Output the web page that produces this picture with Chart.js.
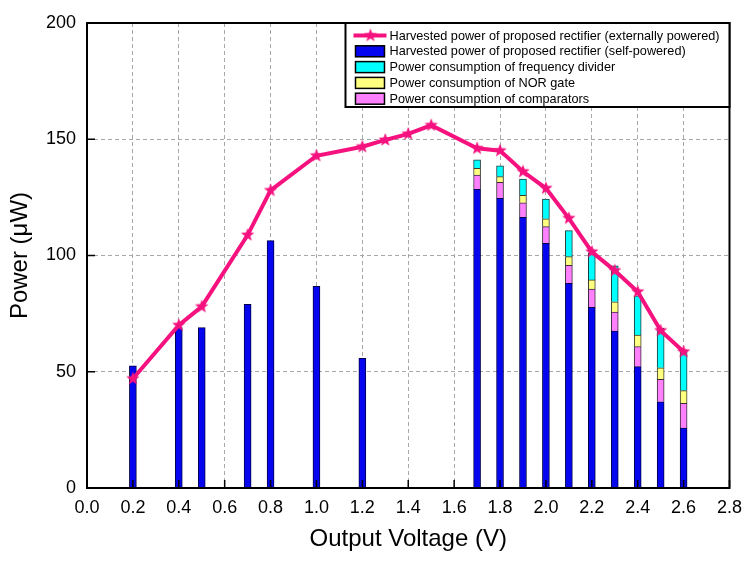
<!DOCTYPE html>
<html>
<head>
<meta charset="utf-8">
<title>Harvested power vs output voltage</title>
<script src="https://cdn.jsdelivr.net/npm/chart.js@4.4.1/dist/chart.umd.min.js"></script>
<style>
  html, body { margin: 0; padding: 0; background: #fff; }
  #wrap { width: 751px; height: 569px; }
</style>
</head>
<body>
<div id="wrap"><canvas id="chart" width="751" height="569"></canvas></div>
<script>
// externally powered (line with stars)
const extVoltage = [0.2, 0.4, 0.5, 0.7, 0.8, 1.0, 1.2, 1.3, 1.4, 1.5, 1.7, 1.8, 1.9, 2.0, 2.1, 2.2, 2.3, 2.4, 2.5, 2.6];
const extPower = [47, 70, 78, 108.8, 128, 142.9, 146.8, 149.7, 152.3, 156, 146.1, 145.1, 136.1, 128.9, 116, 101.6, 93.5, 84.4, 67.7, 58.6];

// self-powered (blue bars)
const selfVoltage = [0.2, 0.4, 0.5, 0.7, 0.8, 1.0, 1.2, 1.7, 1.8, 1.9, 2.0, 2.1, 2.2, 2.3, 2.4, 2.5, 2.6];
const selfPower = [52.5, 69, 69, 79, 106.4, 86.7, 55.8, 128.5, 124.6, 116.4, 105.2, 88.0, 77.7, 67.5, 52.2, 37.1, 25.8];

// consumption parts stacked on top of the blue bars
const stackVoltage = [1.7, 1.8, 1.9, 2.0, 2.1, 2.2, 2.3, 2.4, 2.5, 2.6];
const comparatorPower = [6.1, 6.9, 6.3, 7.2, 7.8, 7.9, 8.2, 8.6, 9.6, 10.6];
const norPower = [2.9, 2.4, 3.2, 3.4, 3.7, 3.9, 4.4, 5.0, 5.0, 5.5];
const dividerPower = [3.6, 4.7, 7.0, 8.5, 11.2, 11.7, 15.5, 16.9, 17.0, 17.5];

const FONT = "'Liberation Sans', Arial, Helvetica, sans-serif";
const PINK = "#f5127f";

const toPoints = (xs, ys) => xs.map((x, i) => ({ x: x, y: ys[i] }));

// filled five point star used as point style
function makeStar(r) {
  const c = document.createElement("canvas");
  const s = Math.ceil(r * 2 + 2);
  c.width = s;
  c.height = s;
  const g = c.getContext("2d");
  g.fillStyle = PINK;
  g.beginPath();
  for (let i = 0; i < 10; i++) {
    const rad = i % 2 === 0 ? r : r * 0.42;
    const a = -Math.PI / 2 + (i * Math.PI) / 5;
    const px = s / 2 + rad * Math.cos(a);
    const py = s / 2 + rad * Math.sin(a);
    if (i === 0) g.moveTo(px, py);
    else g.lineTo(px, py);
  }
  g.closePath();
  g.fill();
  return c;
}
const star = makeStar(7);

// ticks pointing inward, frame and boxed legend
const framePlugin = {
  id: "frame",
  afterDatasetsDraw(chart) {
    const { ctx, chartArea: a, scales } = chart;
    ctx.save();
    ctx.strokeStyle = "#000";
    ctx.lineWidth = 1.5;
    ctx.beginPath();
    scales.x.ticks.forEach((t) => {
      const px = scales.x.getPixelForValue(t.value);
      ctx.moveTo(px, a.bottom);
      ctx.lineTo(px, a.bottom - 8);
    });
    scales.y.ticks.forEach((t) => {
      const py = scales.y.getPixelForValue(t.value);
      ctx.moveTo(a.left, py);
      ctx.lineTo(a.left + 8, py);
    });
    ctx.stroke();
    ctx.lineWidth = 2;
    ctx.strokeRect(a.left, a.top, a.right - a.left, a.bottom - a.top);
    ctx.restore();
  },
  afterDraw(chart) {
    const { ctx, chartArea: a } = chart;
    const ds = chart.data.datasets;
    // legend order: line, blue, cyan, yellow, pink
    const items = [ds[4], ds[0], ds[3], ds[2], ds[1]];
    const w = 384, h = 84;
    const left = a.right - w, top = a.top;
    ctx.save();
    ctx.fillStyle = "#fff";
    ctx.fillRect(left, top, w, h);
    ctx.strokeStyle = "#000";
    ctx.lineWidth = 2;
    ctx.strokeRect(left, top, w, h);
    ctx.font = "12.7px " + FONT;
    ctx.textBaseline = "middle";
    items.forEach((d, i) => {
      const cy = top + 12.5 + i * 15.8;
      if (d.type === "line") {
        ctx.strokeStyle = PINK;
        ctx.lineWidth = 4;
        ctx.beginPath();
        ctx.moveTo(left + 8, cy);
        ctx.lineTo(left + 41, cy);
        ctx.stroke();
        ctx.drawImage(star, left + 25 - star.width / 2, cy - star.height / 2);
      } else {
        ctx.fillStyle = d.backgroundColor;
        ctx.fillRect(left + 10, cy - 5.5, 29, 11);
        ctx.strokeStyle = "#000";
        ctx.lineWidth = 1.5;
        ctx.strokeRect(left + 10, cy - 5.5, 29, 11);
      }
      ctx.fillStyle = "#000";
      ctx.fillText(d.label, left + 44, cy + 0.5);
    });
    ctx.restore();
  },
};

const barBase = {
  type: "bar",
  barThickness: 7,
  borderWidth: 1,
  order: 1,
};

new Chart(document.getElementById("chart").getContext("2d"), {
  data: {
    datasets: [
      {
        ...barBase,
        label: "Harvested power of proposed rectifier (self-powered)",
        data: toPoints(selfVoltage, selfPower),
        backgroundColor: "#0505f0",
        borderColor: "#00004a",
      },
      {
        ...barBase,
        label: "Power consumption of comparators",
        data: toPoints(stackVoltage, comparatorPower),
        backgroundColor: "#ff80ff",
        borderColor: "#3a2a3a",
      },
      {
        ...barBase,
        label: "Power consumption of NOR gate",
        data: toPoints(stackVoltage, norPower),
        backgroundColor: "#ffff80",
        borderColor: "#3a3a2a",
      },
      {
        ...barBase,
        label: "Power consumption of frequency divider",
        data: toPoints(stackVoltage, dividerPower),
        backgroundColor: "#00ffff",
        borderColor: "#1a3a3a",
      },
      {
        type: "line",
        label: "Harvested power of proposed rectifier (externally powered)",
        data: toPoints(extVoltage, extPower),
        stack: "ext",
        order: 0,
        borderColor: PINK,
        backgroundColor: PINK,
        borderWidth: 4,
        pointStyle: star,
        tension: 0,
      },
    ],
  },
  options: {
    responsive: false,
    animation: false,
    layout: { padding: { left: 0, top: 23, right: 20, bottom: 0 } },
    plugins: {
      legend: { display: false },
      tooltip: { enabled: false },
    },
    scales: {
      x: {
        type: "linear",
        stacked: true,
        offset: false,
        min: 0,
        max: 2.8,
        afterFit: (s) => { s.height = 81; },
        grid: { color: "#a8a8a8", lineWidth: 1, drawTicks: false, offset: false },
        border: { display: false, dash: [4, 3] },
        ticks: {
          stepSize: 0.2,
          padding: 9,
          color: "#000",
          font: { family: FONT, size: 18 },
          callback: (v) => Number(v).toFixed(1),
        },
        title: {
          display: true,
          text: "Output Voltage (V)",
          color: "#000",
          font: { family: FONT, size: 24 },
          padding: { top: 0, bottom: 15 },
        },
      },
      y: {
        stacked: true,
        min: 0,
        max: 200,
        afterFit: (s) => { s.width = 87; },
        grid: { color: "#a8a8a8", lineWidth: 1, drawTicks: false },
        border: { display: false, dash: [4, 3] },
        ticks: {
          stepSize: 50,
          padding: 11,
          color: "#000",
          font: { family: FONT, size: 18 },
        },
        title: {
          display: true,
          text: "Power (μW)",
          color: "#000",
          font: { family: FONT, size: 24 },
          padding: { top: 6, bottom: 0 },
        },
      },
    },
  },
  plugins: [framePlugin],
});
</script>
</body>
</html>
